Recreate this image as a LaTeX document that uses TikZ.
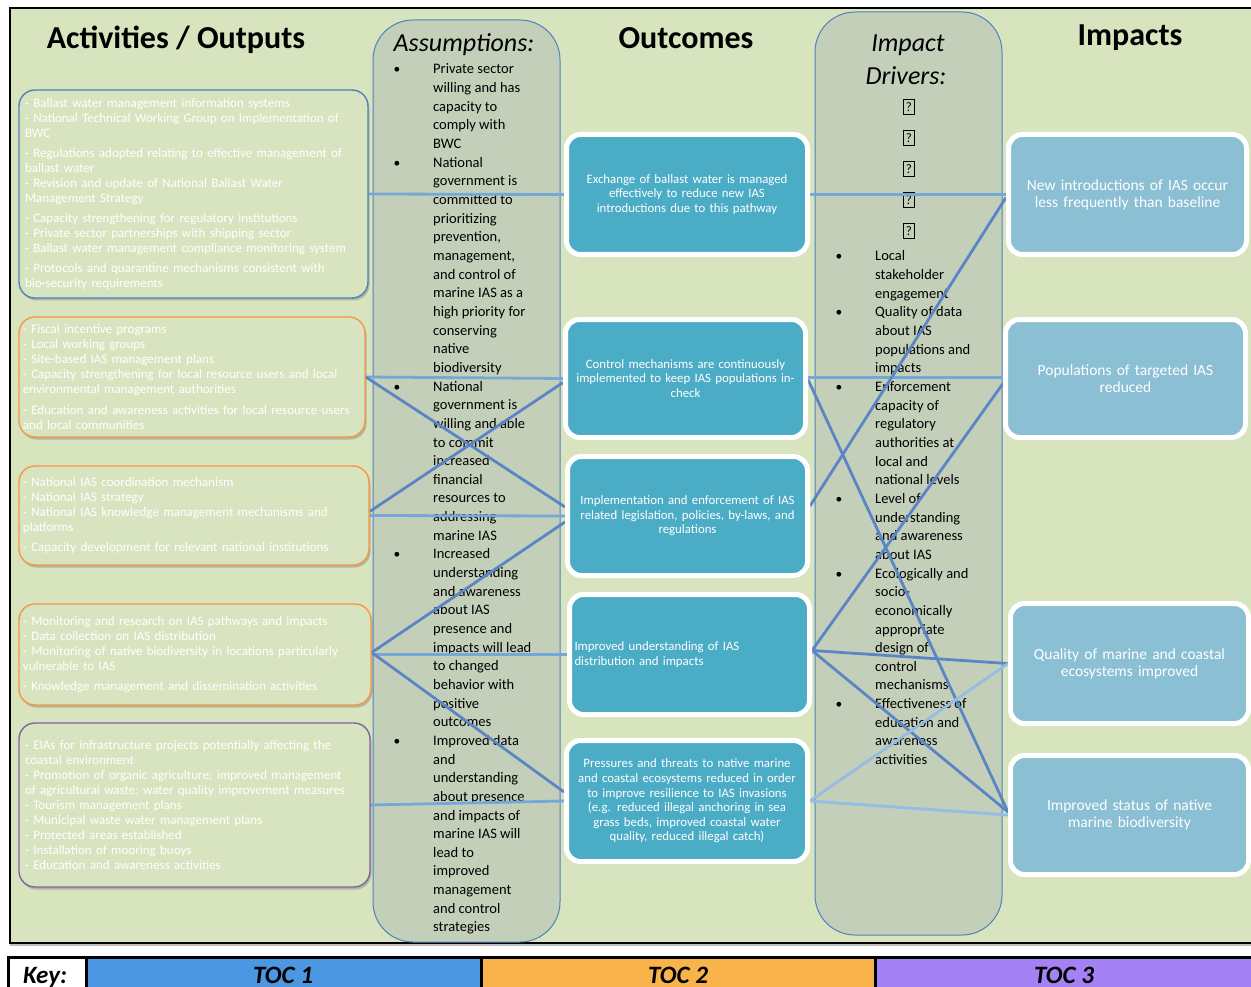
\documentclass[tikz,border=0pt]{standalone}
\usepackage{fontspec}
\setmainfont{Carlito}
\usetikzlibrary{shadows,calc}
\definecolor{bggreen}{HTML}{D7E4BD}
\definecolor{actfill}{HTML}{D8E4BF}
\definecolor{colfill}{HTML}{C4CFBA}
\definecolor{colborder}{HTML}{4F81BD}
\definecolor{actblue}{HTML}{4F81BD}
\definecolor{actorange}{HTML}{F79646}
\definecolor{actpurple}{HTML}{8064A2}
\definecolor{outfill}{HTML}{4BACC6}
\definecolor{impfill}{HTML}{8BBFD3}
\definecolor{linelight}{HTML}{74A8D6}
\definecolor{linedark}{HTML}{5A86C6}
\definecolor{linepale}{HTML}{95BCE2}
\definecolor{tocone}{HTML}{4C97E1}
\definecolor{toctwo}{HTML}{F9B34B}
\definecolor{tocthree}{HTML}{A482F5}
\pgfdeclarelayer{back}
\pgfdeclarelayer{mid}
\pgfsetlayers{back,mid,main}
\tikzset{
  actbox/.style={draw=#1, line width=1.4pt, rounded corners=16pt, fill=actfill,
    drop shadow={opacity=0.45, shadow xshift=1.5pt, shadow yshift=-2.5pt},
    text=white, inner sep=0pt, align=left, font=\fontsize{13}{15}\selectfont},
  outbox/.style={draw=white, line width=5pt, rounded corners=14pt, fill=outfill,
    drop shadow={opacity=0.35, shadow xshift=1.5pt, shadow yshift=-2pt},
    text=white, inner sep=0pt, align=center, text width=230pt,
    font=\fontsize{12.8}{14.6}\selectfont},
  impbox/.style={outbox, fill=impfill, font=\fontsize{15.5}{17}\selectfont},
  colbox/.style={draw=colborder, line width=1pt, fill=colfill, rounded corners=40pt, inner sep=0pt},
  astext/.style={anchor=base west, inner sep=0pt, font=\fontsize{14.5}{14.5}\selectfont},
  bul/.style={anchor=base, inner sep=0pt, font=\fontsize{13.5}{13.5}\selectfont},
  qbox/.style={draw=black, line width=0.6pt, inner sep=0.5pt, minimum width=11pt, minimum height=15pt, font=\fontsize{13}{13}\selectfont},
  header/.style={font=\fontsize{32}{32}\selectfont\bfseries, inner sep=0pt},
  colhead/.style={font=\fontsize{26}{26}\selectfont\itshape, inner sep=0pt},
  conlight/.style={draw=linelight, line width=2.8pt},
  condark/.style={draw=linedark, line width=2.8pt},
  conpale/.style={draw=linepale, line width=2.8pt},
  keycell/.style={draw=black, line width=3pt},
  keytext/.style={anchor=base, inner sep=0pt, font=\fontsize{25}{25}\selectfont\bfseries\itshape}
}
\begin{document}
\begin{tikzpicture}[x=1pt,y=-1pt]
\useasboundingbox (0,0) rectangle (1251,987);

\begin{pgfonlayer}{back}
% main frame
\draw[line width=2pt, fill=bggreen, drop shadow={opacity=0.5, shadow xshift=0pt, shadow yshift=-3pt}] (10,8) rectangle (1262,943);
% columns
\node[colbox, minimum width=187pt, minimum height=922pt] (asmcol) at (466.5,481) {};
\node[colbox, minimum width=187pt, minimum height=923pt] (drvcol) at (908.5,473.5) {};
% headers
\node[header] (hact) at (176,40) {Activities / Outputs};
\node[header] (hout) at (686,38) {Outcomes};
\node[header] (himp) at (1130,38) {Impacts};
\node[colhead] (hasm) at (464,45) {Assumptions:};
\node[colhead] (hdrv1) at (908,45) {Impact};
\node[colhead] (hdrv2) at (906,76) {Drivers:};
% assumptions text
\foreach \t [count=\i] in {Private sector, willing and has, capacity to, comply with, BWC, National, government is, committed to, prioritizing, {prevention,}, {management,}, and control of, marine IAS as a, high priority for, conserving, native, biodiversity, National, government is, willing and able, to commit, increased, financial, resources to, addressing, marine IAS, Increased, understanding, and awareness, about IAS, presence and, impacts will lead, to changed, behavior with, positive, outcomes, Improved data, and, understanding, about presence, and impacts of, marine IAS will, lead to, improved, management, and control, strategies}
  \node[astext] (as\i) at (433,{74+(\i-1)*18.65}) {\t};
\foreach \i in {1,6,18,27,37}
  \node[bul] (ab\i) at (397,{74+(\i-1)*18.65}) {\textbullet};
% drivers text
\foreach \i in {1,...,5}
  \node[qbox] (q\i) at (909,{107+(\i-1)*31}) {?};
\foreach \t [count=\i] in {Local, stakeholder, engagement, Quality of data, about IAS, populations and, impacts, Enforcement, capacity of, regulatory, authorities at, local and, national levels, Level of, understanding, and awareness, about IAS, Ecologically and, socio-, economically, appropriate, design of, control, mechanisms, Effectiveness of, education and, awareness, activities}
  \node[astext] (dr\i) at (875,{261+(\i-1)*18.65}) {\t};
\foreach \i in {1,4,8,14,18,25}
  \node[bul] (db\i) at (839,{261+(\i-1)*18.65}) {\textbullet};
\end{pgfonlayer}

% activity boxes
\node[actbox=actblue, minimum width=349pt, minimum height=208pt, text width=337pt] (a1) at (193.5,194) {%
- Ballast water management information systems\\
- National Technical Working Group on Implementation of\\
BWC\\[5pt]
- Regulations adopted relating to effective management of\\
ballast water\\
- Revision and update of National Ballast Water\\
Management Strategy\\[5pt]
- Capacity strengthening for regulatory institutions\\
- Private sector partnerships with shipping sector\\
- Ballast water management compliance monitoring system\\[5pt]
- Protocols and quarantine mechanisms consistent with\\
bio-security requirements};
\node[actbox=actorange, minimum width=346pt, minimum height=120pt, text width=338pt] (a2) at (192,377) {%
- Fiscal incentive programs\\
- Local working groups\\
- Site-based IAS management plans\\
- Capacity strengthening for local resource users and local\\
environmental management authorities\\[6pt]
- Education and awareness activities for local resource users\\
and local communities};
\node[actbox=actorange, minimum width=350pt, minimum height=99pt, text width=342pt] (a3) at (194,515.5) {%
- National IAS coordination mechanism\\
- National IAS strategy\\
- National IAS knowledge management mechanisms and\\
platforms\\[5pt]
- Capacity development for relevant national institutions};
\node[actbox=actorange, minimum width=352pt, minimum height=101pt, text width=344pt] (a4) at (195,654.5) {%
- Monitoring and research on IAS pathways and impacts\\
- Data collection on IAS distribution\\
- Monitoring of native biodiversity in locations particularly\\
vulnerable to IAS\\[5pt]
- Knowledge management and dissemination activities};
\node[actbox=actpurple, minimum width=351pt, minimum height=164pt, text width=339pt] (a5) at (194.5,805) {%
- EIAs for infrastructure projects potentially affecting the\\
coastal environment\\
- Promotion of organic agriculture; improved management\\
of agricultural waste; water quality improvement measures\\
- Tourism management plans\\
- Municipal waste water management plans\\
- Protected areas established\\
- Installation of mooring buoys\\
- Education and awareness activities};

% outcome boxes
\node[outbox, minimum width=241pt, minimum height=120pt] (o1) at (687,194.5) {Exchange of ballast water is managed\\effectively to reduce new IAS\\introductions due to this pathway};
\node[outbox, minimum width=240pt, minimum height=118pt] (o2) at (685.5,378.5) {Control mechanisms are continuously\\implemented to keep IAS populations in-\\check};
\node[outbox, minimum width=240pt, minimum height=119pt] (o3) at (687.5,516) {Implementation and enforcement of IAS\\related legislation, policies, by-laws, and\\regulations};
\node[outbox, minimum width=240pt, minimum height=120pt, align=left] (o4) at (689.5,654.5) {Improved understanding of IAS\\distribution and impacts};
\node[outbox, minimum width=241pt, minimum height=121pt] (o5) at (687,801) {Pressures and threats to native marine\\and coastal ecosystems reduced in order\\to improve resilience to IAS invasions\\(e.g. reduced illegal anchoring in sea\\grass beds, improved coastal water\\quality, reduced illegal catch)};

% impact boxes
\node[impbox, minimum width=238pt, minimum height=120pt] (i1) at (1127.5,194.5) {New introductions of IAS occur\\less frequently than baseline};
\node[impbox, minimum width=240pt, minimum height=118pt] (i2) at (1125.5,378.5) {Populations of targeted IAS\\reduced};
\node[impbox, minimum width=238pt, minimum height=120pt] (i3) at (1129.5,663.5) {Quality of marine and coastal\\ecosystems improved};
\node[impbox, minimum width=238pt, minimum height=119pt] (i4) at (1129.5,815) {Improved status of native\\marine biodiversity};

% connectors
\begin{pgfonlayer}{mid}
\draw[conlight] (a1.east) -- (o1.west);
\draw[conlight] (a2.east) -- (o2.west);
\draw[conlight] (a3.east) -- (o3.west);
\draw[conlight] (a4.east) -- (o4.west);
\draw[conlight] (a5.east) -- (o5.west);
\draw[condark] (a2.east) -- ($(o3.west)+(0,-9)$);
\draw[condark] ($(a3.east)+(0,-4)$) -- ($(o2.west)+(0,4)$);
\draw[condark] ($(a4.east)+(0,-2)$) -- ($(o3.west)+(0,6)$);
\draw[condark] ($(a4.east)+(0,-2)$) -- ($(o5.west)+(0,-9)$);
\draw[conlight] (o1.east) -- (i1.west);
\draw[conlight] ($(o2.east)+(0,-1)$) -- ($(i2.west)+(0,-1)$);
\draw[condark] ($(o3.east)+(0,-10)$) -- ($(i1.west)+(0,3)$);
\draw[condark] ($(o2.east)+(0,1)$) -- ($(i4.west)+(0,-3)$);
\draw[condark] ($(o4.east)+(0,-4)$) -- ($(i2.west)+(0,5)$);
\draw[condark] ($(o4.east)+(0,-4)$) -- (i3.west);
\draw[condark] ($(o4.east)+(0,-4)$) -- ($(i4.west)+(0,-3)$);
\draw[conpale] (o5.east) -- (i3.west);
\draw[conpale] (o5.east) -- (i4.west);
\end{pgfonlayer}

% key row
\node[keycell, fill=white, minimum width=78pt, minimum height=36pt, inner sep=0pt] (k0) at (47,975) {};
\node[keycell, fill=tocone, minimum width=395pt, minimum height=36pt, inner sep=0pt] (k1) at (283.5,975) {};
\node[keycell, fill=toctwo, minimum width=394pt, minimum height=36pt, inner sep=0pt] (k2) at (678,975) {};
\node[keycell, fill=tocthree, minimum width=390pt, minimum height=36pt, inner sep=0pt] (k3) at (1070,975) {};
\node[keytext] (t0) at (45,983) {Key:};
\node[keytext] (t1) at (283,983) {TOC 1};
\node[keytext] (t2) at (678,983) {TOC 2};
\node[keytext] (t3) at (1064,983) {TOC 3};
\end{tikzpicture}
\end{document}
